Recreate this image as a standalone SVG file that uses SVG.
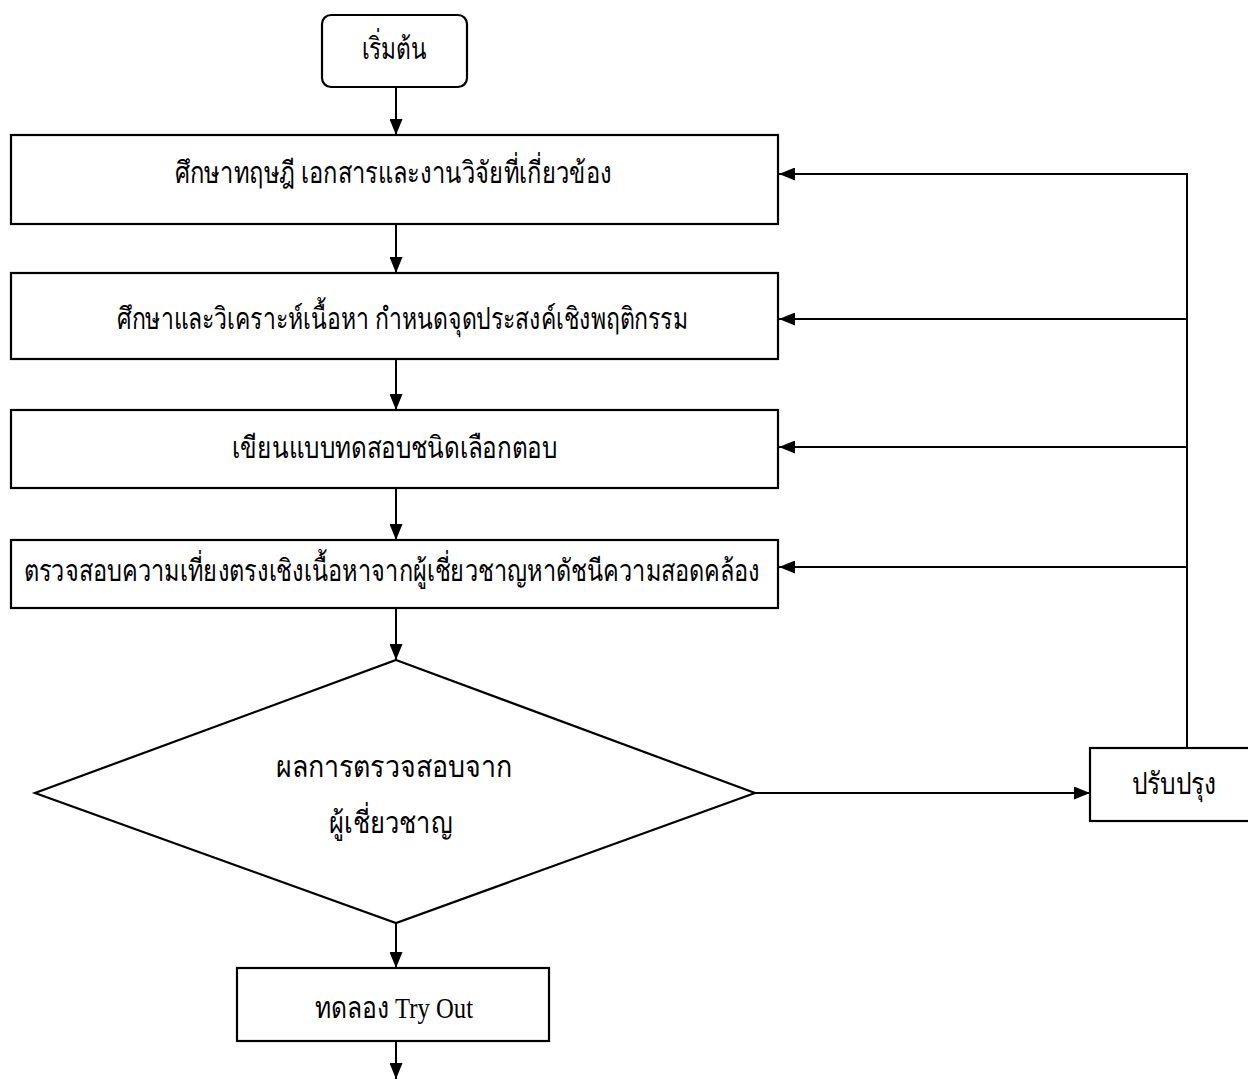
<svg xmlns="http://www.w3.org/2000/svg" width="1248" height="1079" viewBox="0 0 1248 1079">
<style>
.box{fill:#fff;stroke:#000;stroke-width:2.2}
.ln{fill:none;stroke:#000;stroke-width:2}
.t{font-family:"Liberation Serif","Noto Sans",serif;font-size:30px;fill:#000;text-anchor:middle}
</style>
<defs>
<marker id="ah" viewBox="0 0 16 13" refX="16" refY="6.5" markerWidth="16" markerHeight="13" markerUnits="userSpaceOnUse" orient="auto">
<path d="M0,0 L16,6.5 L0,13 z" fill="#000"/>
</marker>
</defs>
<rect width="1248" height="1079" fill="#fff"/>
<g id="connectors">
<line class="ln" x1="396" y1="87" x2="396" y2="135" marker-end="url(#ah)"/>
<line class="ln" x1="396" y1="224" x2="396" y2="273" marker-end="url(#ah)"/>
<line class="ln" x1="396" y1="359" x2="396" y2="410" marker-end="url(#ah)"/>
<line class="ln" x1="396" y1="488" x2="396" y2="540" marker-end="url(#ah)"/>
<line class="ln" x1="396" y1="608" x2="396" y2="660" marker-end="url(#ah)"/>
<line class="ln" x1="755" y1="793" x2="1090" y2="793" marker-end="url(#ah)"/>
<polyline class="ln" points="1187,748 1187,174 779,174" marker-end="url(#ah)"/>
<line class="ln" x1="1187" y1="319" x2="779" y2="319" marker-end="url(#ah)"/>
<line class="ln" x1="1187" y1="447" x2="779" y2="447" marker-end="url(#ah)"/>
<line class="ln" x1="1187" y1="567" x2="779" y2="567" marker-end="url(#ah)"/>
<line class="ln" x1="396" y1="923" x2="396" y2="968" marker-end="url(#ah)"/>
<line class="ln" x1="396" y1="1041" x2="396" y2="1079" marker-end="url(#ah)"/>
</g>
<g id="start">
<rect class="box" x="322" y="15" width="145" height="72" rx="9"/>
<text class="t" x="394" y="59" textLength="65" lengthAdjust="spacingAndGlyphs">เริ่มต้น</text>
</g>
<g id="step1">
<rect class="box" x="11" y="135" width="767" height="89"/>
<text class="t" x="393.5" y="183" textLength="437" lengthAdjust="spacingAndGlyphs">ศึกษาทฤษฎี เอกสารและงานวิจัยที่เกี่ยวข้อง</text>
</g>
<g id="step2">
<rect class="box" x="11" y="273" width="767" height="86"/>
<text class="t" x="402.5" y="329" textLength="571" lengthAdjust="spacingAndGlyphs">ศึกษาและวิเคราะห์เนื้อหา กำหนดจุดประสงค์เชิงพฤติกรรม</text>
</g>
<g id="step3">
<rect class="box" x="11" y="410" width="767" height="78"/>
<text class="t" x="394.5" y="458" textLength="325" lengthAdjust="spacingAndGlyphs">เขียนแบบทดสอบชนิดเลือกตอบ</text>
</g>
<g id="step4">
<rect class="box" x="11" y="540" width="767" height="68"/>
<text class="t" x="392" y="581" textLength="736" lengthAdjust="spacingAndGlyphs">ตรวจสอบความเที่ยงตรงเชิงเนื้อหาจากผู้เชี่ยวชาญหาดัชนีความสอดคล้อง</text>
</g>
<g id="decision">
<polygon class="box" points="396,660 755,793 396,923 35,793"/>
<text class="t" x="394" y="777" textLength="237" lengthAdjust="spacingAndGlyphs">ผลการตรวจสอบจาก</text>
<text class="t" x="391" y="833" textLength="124" lengthAdjust="spacingAndGlyphs">ผู้เชี่ยวชาญ</text>
</g>
<g id="revise">
<rect class="box" x="1090" y="748" width="170" height="73"/>
<text class="t" x="1174" y="794" textLength="85" lengthAdjust="spacingAndGlyphs">ปรับปรุง</text>
</g>
<g id="tryout">
<rect class="box" x="237" y="968" width="312" height="73"/>
<text class="t" x="394" y="1018" textLength="158" lengthAdjust="spacingAndGlyphs">ทดลอง Try Out</text>
</g>
</svg>
